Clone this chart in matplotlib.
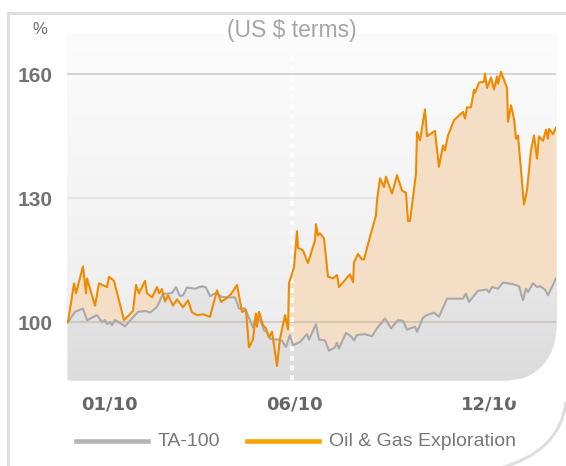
#Oil & Gas Exploration index vs TA-100, rebased to 100

import numpy as np
import matplotlib
matplotlib.use('Agg')
import matplotlib.pyplot as plt
from matplotlib import font_manager
from matplotlib.path import Path
from matplotlib.patches import PathPatch
from matplotlib.lines import Line2D

# days from start of the chart (roughly one per pixel) and index values
oil_days = [2, 8, 10, 17, 20, 21, 29, 33, 41, 43,
            48, 58, 67, 70, 73, 79, 81, 86, 91, 93,
            96, 99, 102, 107, 111, 117, 122, 126, 131, 137,
            144, 151, 155, 160, 165, 171, 176, 180, 183, 187,
            190, 191, 193, 197, 200, 203, 206, 211, 214, 219,
            222, 223, 228, 231, 232, 237, 242, 249, 250, 252,
            254, 258, 262, 267, 271, 273, 284, 287, 288, 292,
            296, 298, 301, 310, 311, 314, 318, 320, 326, 331,
            336, 340, 342, 344, 350, 351, 354, 359, 361, 369,
            373, 377, 379, 382, 388, 397, 399, 401, 405, 408,
            409, 413, 418, 419, 421, 425, 428, 431, 432, 435,
            441, 442, 445, 448, 450, 452, 458, 461, 465, 468,
            471, 473, 477, 480, 482, 483, 487, 490]
oil_values = [100, 109.4, 107, 113.5, 107, 110.6, 104, 109.4, 108.5, 111,
              110, 100.5, 102.7, 109, 107, 110, 107, 106, 108.5, 107,
              108, 105, 106.5, 104, 105.5, 103.6, 105.3, 102.4, 101.7, 101.9,
              101.3, 107.7, 104.9, 105.7, 106.8, 109, 102.5, 102.9, 93.9, 95.8,
              102.1, 98.9, 102.5, 99.3, 98.5, 96.3, 97.7, 89.4, 96, 101.7,
              98.2, 109.4, 113.3, 122, 118, 117.4, 114.3, 119.8, 123.7, 121,
              121.5, 120.3, 111, 110.6, 111.4, 108.5, 111.6, 109.7, 114.5, 116.5,
              115.2, 115.2, 118, 125.9, 129.5, 134.8, 132.7, 135.2, 131.1, 135.6,
              131.9, 131.3, 124.5, 124.5, 136, 146, 144, 151.5, 145, 146.3,
              137.6, 142.8, 141.6, 145.2, 148.9, 150.9, 149.3, 152, 152, 156.3,
              155.5, 158, 158.2, 160.2, 156.7, 159.2, 156.3, 159.5, 157.7, 160.6,
              156.7, 148.5, 152.5, 149.3, 144.4, 145.2, 128.5, 131.9, 141.6, 145.2,
              139.6, 145, 143.9, 146.6, 144.4, 146.8, 145.5, 147.1]

ta_days = [2, 9, 17, 21, 31, 36, 39, 41, 44, 46,
           49, 54, 59, 66, 72, 80, 84, 91, 97, 102,
           106, 110, 114, 117, 121, 129, 136, 140, 144, 150,
           156, 162, 169, 173, 179, 184, 187, 190, 195, 198,
           201, 204, 208, 213, 216, 220, 224, 227, 234, 241,
           243, 250, 253, 259, 263, 269, 271, 273, 280, 285,
           288, 291, 299, 306, 311, 319, 325, 332, 337, 341,
           349, 351, 357, 361, 368, 373, 381, 397, 400, 403,
           412, 421, 423, 426, 432, 437, 447, 453, 457, 460,
           462, 467, 471, 474, 479, 482, 490]
ta_values = [100, 102.5, 103.3, 100.5, 101.7, 100, 100.5, 99.5, 100, 99.3,
             100.5, 99.8, 99, 100.9, 102.5, 102.7, 102.3, 103.7, 106.9, 106.9,
             107.1, 108.5, 106.3, 106.5, 108.4, 108.1, 108.7, 108.4, 106.3, 107.1,
             106.1, 106, 106, 103.3, 103.3, 100.5, 98.7, 101.7, 100.1, 98,
             97.7, 96, 95.8, 95.8, 95.5, 94, 96.9, 94.4, 95.2, 97.1,
             95.8, 99.5, 95.8, 95.6, 93.1, 93.9, 95, 93.6, 97.4, 96.6,
             95.6, 96.9, 97.1, 96.6, 98.5, 100.9, 98.5, 100.5, 100.3, 98.2,
             98.9, 97.7, 101.1, 101.7, 102.3, 101.3, 105.7, 105.7, 106.9, 104.9,
             107.6, 107.9, 107.2, 108.5, 108.1, 109.6, 109.2, 108.7, 105.3, 108.1,
             107.3, 109.4, 108.5, 108.7, 107.9, 106.5, 110.6]

tick_days = [43, 228, 423]
tick_labels = ['01/10', '06/10', '12/10']
y_ticks = [100, 130, 160]
marker_day = 226

W, H = 566, 466
XMIN, XMAX = 0.5, 490
YMIN, YMAX = 86, 170

names = {f.name for f in font_manager.fontManager.ttflist}
narrow = 'Liberation Sans Narrow' if 'Liberation Sans Narrow' in names else None
legend_font = narrow or 'Liberation Sans'
legend_size = 16 if narrow else 14

fig = plt.figure(figsize=(W / 100, H / 100), dpi=100)
fig.patch.set_facecolor('white')

def px(x, y):
    return x / W, 1 - y / H

ax = fig.add_axes([66.5 / W, 1 - 380 / H, (556 - 66.5) / W, (380 - 33) / H])
ax.set_xlim(XMIN, XMAX)
ax.set_ylim(YMIN, YMAX)
for s in ax.spines.values():
    s.set_visible(False)
ax.set_facecolor('none')

#background gradient, white at top to light grey at bottom
grad = np.linspace(0, 1, 256).reshape(-1, 1)
bg = ax.imshow(grad, extent=[XMIN, XMAX, YMIN, YMAX], origin='upper', aspect='auto',
               cmap=matplotlib.colors.LinearSegmentedColormap.from_list('bg', ['#fcfcfc', '#ebebeb']),
               zorder=0)

ax.axhline(160, color='#d4d4d4', lw=1.4, zorder=1)
ax.axhline(130, color='#e4e4e4', lw=1.2, zorder=1)

oil_fill = ax.fill_between(oil_days, oil_values, YMIN, color='#f4dfc6', lw=0, zorder=2)
ta_fill = ax.fill_between(ta_days, ta_values, YMIN, color='#e4e4e6', lw=0, zorder=3)
ta_grad = ax.imshow(grad, extent=[XMIN, XMAX, YMIN, 112], origin='upper', aspect='auto',
                    cmap=matplotlib.colors.LinearSegmentedColormap.from_list('ta', ['#e7e7e9', '#dcdcdc']),
                    zorder=3.5)
ta_grad.set_clip_path(ta_fill.get_paths()[0], ax.transData)

ax.axhline(100, color='#b0a090', alpha=0.4, lw=1.5, zorder=4)

dots = ax.plot([marker_day, marker_day], [YMIN, 166], color='white', lw=2.9, alpha=0.85, zorder=4.5)[0]
dots.set_dashes((1.2, 1.2))

ax.plot(ta_days, ta_values, color='#a9a9a9', lw=1.5, zorder=5)
ax.plot(oil_days, oil_values, color='#f08a00', lw=1.5, zorder=6)

#round off the bottom right corner of the plot
rx, ry = 46, 12
corner = Path([(XMAX - rx, YMIN), (XMAX - 0.448 * rx, YMIN), (XMAX, YMIN + 0.448 * ry),
               (XMAX, YMIN + ry), (XMAX + 5, YMIN + ry), (XMAX + 5, YMIN - 5), (XMAX - rx, YMIN - 5),
               (XMAX - rx, YMIN)],
              [Path.MOVETO, Path.CURVE4, Path.CURVE4, Path.CURVE4, Path.LINETO, Path.LINETO,
               Path.LINETO, Path.CLOSEPOLY])
ax.add_patch(PathPatch(corner, facecolor='white', edgecolor='none', zorder=7, clip_on=False))

ax.set_yticks(y_ticks)
ax.set_yticklabels([str(v) for v in y_ticks], fontfamily=legend_font, fontweight='bold',
                   fontsize=15, color='#737373')
ax.set_xticks(tick_days)
ax.set_xticklabels(tick_labels, fontfamily='DejaVu Sans', fontweight='bold',
                   fontsize=13, color='#666666')
ax.tick_params(axis='y', length=0, pad=10)
ax.tick_params(axis='x', length=0, pad=11)

#title and unit
fig.text(*px(292, 31), '(US $ terms)', ha='center', va='center', fontfamily='Liberation Sans',
         fontsize=16.5, color='#a6a6a6')
fig.text(*px(40, 29), '%', ha='center', va='center', fontfamily=legend_font, fontsize=12,
         color='#707070')

#outer frame, right side is cut off
frame_col = '#dedede'
fig.add_artist(Line2D([8 / W, 1], [1 - 13 / H] * 2, color=frame_col, lw=2.2))
fig.add_artist(Line2D([8 / W] * 2, [1 - 13 / H, 0], color=frame_col, lw=2.2))
arc = Path([px(566, 402), px(560, 452), px(500, 468)], [Path.MOVETO, Path.CURVE3, Path.CURVE3])
fig.add_artist(PathPatch(arc, transform=fig.transFigure, facecolor='none', edgecolor=frame_col, lw=2.2))

#legend drawn by hand
ly = 441
fig.add_artist(Line2D([76 / W, 148 / W], [1 - ly / H] * 2, color='#b4b4b4', lw=3.3))
fig.text(*px(158, ly), 'TA-100', ha='left', va='center', fontfamily=legend_font,
         fontsize=legend_size, color='#777777')
fig.add_artist(Line2D([247 / W, 319 / W], [1 - ly / H] * 2, color='#f5a400', lw=3.3))
fig.text(*px(329, ly), 'Oil & Gas Exploration', ha='left', va='center', fontfamily=legend_font,
         fontsize=legend_size, color='#777777')

fig.savefig('out.png', dpi=100, facecolor='white')
